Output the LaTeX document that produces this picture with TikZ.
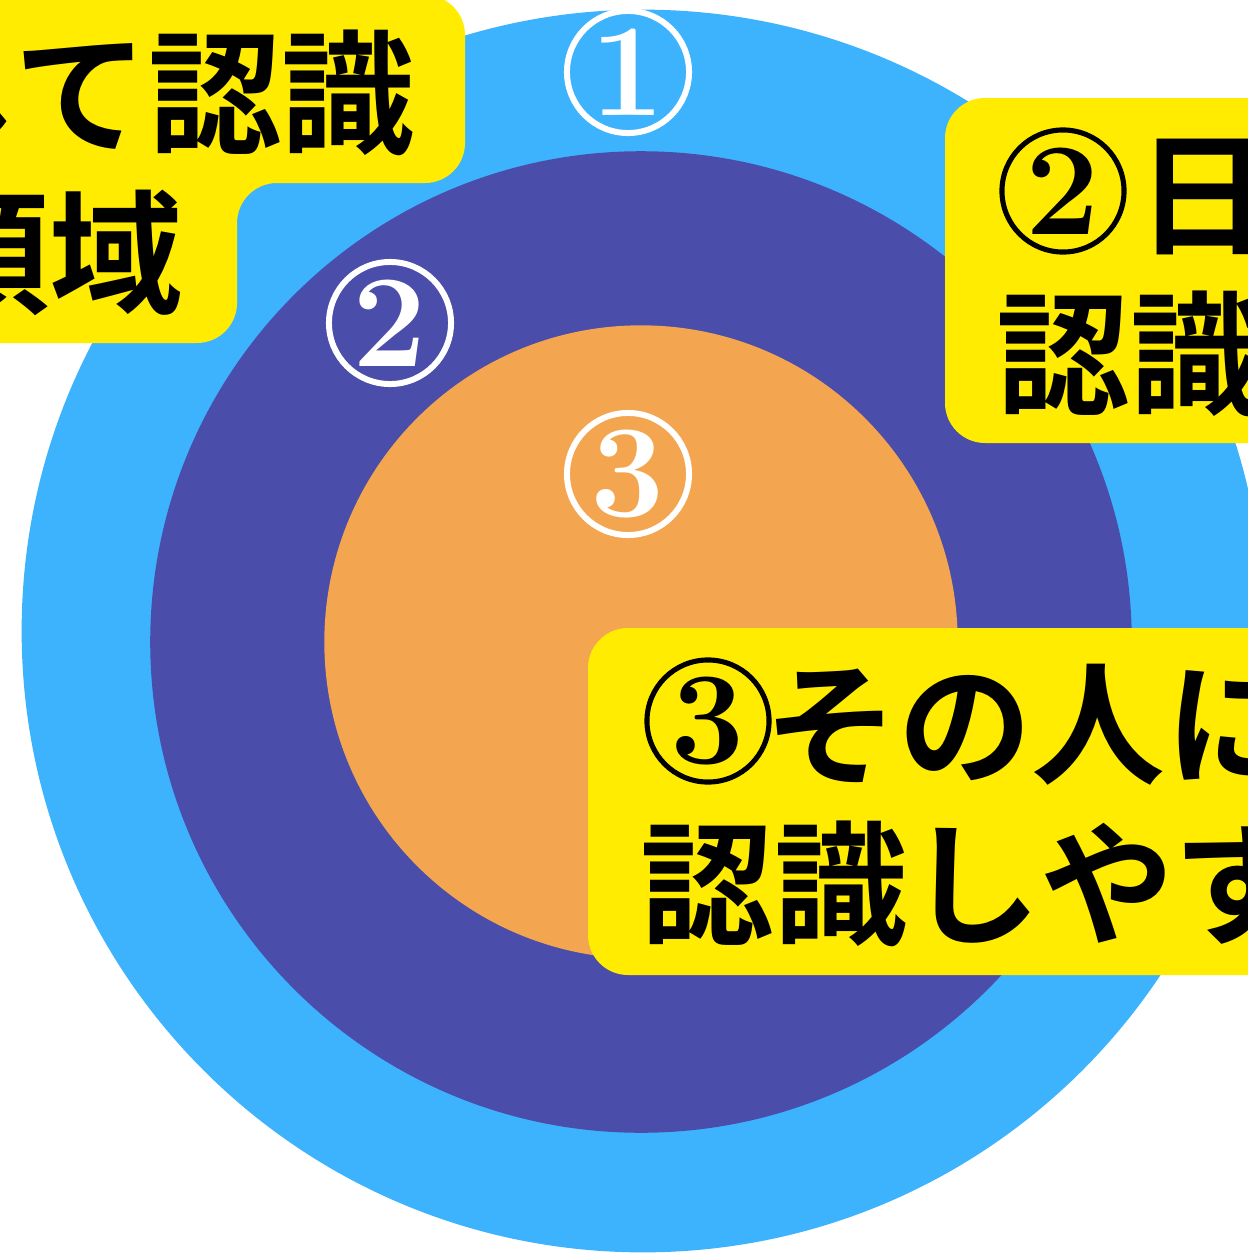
\documentclass[tikz,border=0pt]{standalone}
\usepackage{fontspec}
\newfontfamily\jp{Noto Sans CJK JP}[BoldFont={Noto Sans CJK JP Bold}]
\definecolor{sky}{HTML}{3DB3FE}
\definecolor{indigo}{HTML}{4A4DA9}
\definecolor{peach}{HTML}{F4A54F}
\definecolor{labelyellow}{HTML}{FFEC00}
\begin{document}
\begin{tikzpicture}[x=0.01cm,y=-0.01cm,
  jtext/.style={inner sep=0pt, font=\jp\bfseries\fontsize{38}{46}\selectfont},
  wnum/.style={circle, draw=white, text=white, line width=1.7pt, minimum size=1.22cm,
               inner sep=0pt, font=\bfseries\fontsize{37.5}{40}\selectfont},
  bnum/.style={wnum, draw=black, text=black, line width=1.45pt},
  labelbox/.style={fill=labelyellow, rounded corners=0.4cm}]
\useasboundingbox (0,0) rectangle (1248,1254);
\clip (0,0) rectangle (1248,1254);
% rings
\fill[sky] (643,631) circle[radius=6.21cm];
\fill[indigo] (641,642) circle[radius=4.905cm];
\fill[peach] (641,642) circle[radius=3.165cm];
% ring numbers
\node[wnum] (n1) at (628,72) {1};
\node[wnum] (n2) at (390,323) {2};
\node[wnum] (n3) at (628,474) {3};
% label boxes
\fill[labelyellow, rounded corners=0.4cm] (-100,-5) -- (465,-5) -- (465,183) -- (237,183) -- (237,343) -- (-100,343) -- cycle;
\fill[labelbox] (945,98) rectangle (1320,443);
\fill[labelbox] (588,628) rectangle (1320,975);
% top-left label text
\node[jtext, anchor=base east] (t1a) at (416,143) {して認識};
\node[jtext, anchor=base east] (t1b) at (184,303) {領域};
% right label text
\node[bnum] (b2) at (1063,191) {2};
\node[jtext, anchor=base west] (t2a) at (1136,244) {日};
\node[jtext, anchor=base west] (t2b) at (996,404) {認識};
% bottom label text
\node[bnum] (b3) at (708,721) {3};
\node[jtext, anchor=base west] (t3a) at (764,774) {その人に};
\node[jtext, anchor=base west] (t3b) at (640,934) {認識しやす};
\end{tikzpicture}
\end{document}
